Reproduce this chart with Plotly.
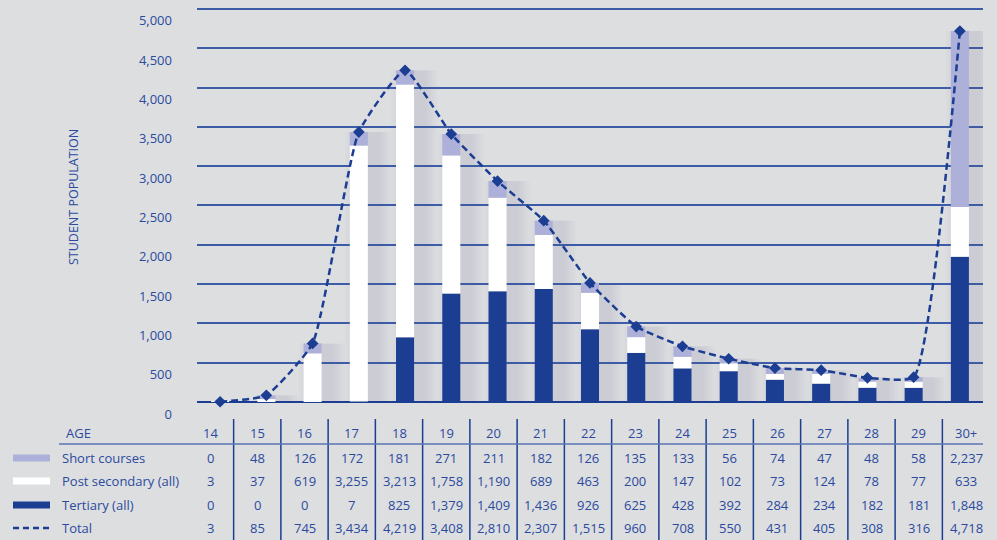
import plotly.graph_objects as go

ages = ["14", "15", "16", "17", "18", "19", "20", "21", "22", "23", "24", "25", "26", "27", "28", "29", "30+"]
short_courses = [0, 48, 126, 172, 181, 271, 211, 182, 126, 135, 133, 56, 74, 47, 48, 58, 2237]
post_secondary = [3, 37, 619, 3255, 3213, 1758, 1190, 689, 463, 200, 147, 102, 73, 124, 78, 77, 633]
tertiary = [0, 0, 0, 7, 825, 1379, 1409, 1436, 926, 625, 428, 392, 284, 234, 182, 181, 1848]
total = [3, 85, 745, 3434, 4219, 3408, 2810, 2307, 1515, 960, 708, 550, 431, 405, 308, 316, 4718]
y_ticks = [0, 500, 1000, 1500, 2000, 2500, 3000, 3500, 4000, 4500, 5000]

BG = "#dddee0"
DARK = "#1b3d92"
LAV = "#adb0d8"
TXT = "#2b4a9e"
GRID = "#3d5ca8"
FONT = "Open Sans"

W, H = 997, 540
L, R, T, B = 197, 14, 5, 138
PW = W - L - R
PH = H - T - B

def px(x):
    return (x - L) / PW

def py(y):
    return (H - B - y) / PH

xs = list(range(len(ages)))
base_post = tertiary
base_short = [t + p for t, p in zip(tertiary, post_secondary)]

fig = go.Figure()

# soft shadow behind bars
for w in [1.0, 0.9, 0.8, 0.7, 0.6, 0.5]:
    fig.add_trace(go.Bar(
        x=[i + 0.2 for i in xs], y=total, width=w,
        marker=dict(color="rgba(120,120,130,0.02)", line=dict(width=0)),
        hoverinfo="skip", showlegend=False))

fig.add_trace(go.Bar(x=xs, y=tertiary, name="Tertiary (all)", width=0.39,
                     marker=dict(color=DARK, line=dict(width=0))))
fig.add_trace(go.Bar(x=xs, y=post_secondary, base=base_post, name="Post secondary (all)", width=0.39,
                     marker=dict(color="#ffffff", line=dict(width=0))))
fig.add_trace(go.Bar(x=xs, y=short_courses, base=base_short, name="Short courses", width=0.39,
                     marker=dict(color=LAV, line=dict(width=0))))
fig.add_trace(go.Scatter(x=xs, y=total, name="Total", mode="lines+markers",
                         line=dict(color=DARK, width=2.5, dash="7px,4px", shape="spline", smoothing=0.45),
                         marker=dict(symbol="diamond", size=9, color=DARK), cliponaxis=False))

shapes = []
annotations = []

# table column separators
col0 = 210
cw = 47.25
for i in range(len(ages) - 1):
    xl = col0 + cw / 2 + i * cw
    shapes.append(dict(type="line", xref="paper", yref="paper",
                       x0=px(xl), x1=px(xl), y0=py(419), y1=py(540),
                       line=dict(color=DARK, width=1.5)))
# header underline
shapes.append(dict(type="line", xref="paper", yref="paper",
                   x0=px(59), x1=px(983), y0=py(444), y1=py(444),
                   line=dict(color="#5a74b4", width=1.5)))

row_y = {"hdr": 433, "short": 458, "post": 481, "ter": 505, "tot": 528}
rows = [("short", short_courses), ("post", post_secondary), ("ter", tertiary), ("tot", total)]
fs = 13
for i, a in enumerate(ages):
    cx = col0 + i * cw
    annotations.append(dict(x=px(cx), y=py(row_y["hdr"]), xref="paper", yref="paper", text=a,
                            showarrow=False, xanchor="center", yanchor="middle",
                            font=dict(family=FONT, size=fs, color=TXT)))
    for key, vals in rows:
        annotations.append(dict(x=px(cx), y=py(row_y[key]), xref="paper", yref="paper",
                                text="{:,}".format(vals[i]), showarrow=False,
                                xanchor="center", yanchor="middle",
                                font=dict(family=FONT, size=fs, color=TXT)))

labels = [("hdr", "AGE", 64), ("short", "Short courses", 60), ("post", "Post secondary (all)", 60),
          ("ter", "Tertiary (all)", 60), ("tot", "Total", 60)]
for key, txt, x0 in labels:
    annotations.append(dict(x=px(x0), y=py(row_y[key]), xref="paper", yref="paper", text=txt,
                            showarrow=False, xanchor="left", yanchor="middle",
                            font=dict(family=FONT, size=fs, color=TXT)))

# legend swatches
for key, col in [("short", LAV), ("post", "#ffffff"), ("ter", DARK)]:
    yc = row_y[key]
    shapes.append(dict(type="rect", xref="paper", yref="paper",
                       x0=px(13), x1=px(50), y0=py(yc - 3.5), y1=py(yc + 3.5),
                       fillcolor=col, line=dict(width=0)))
shapes.append(dict(type="line", xref="paper", yref="paper",
                   x0=px(13), x1=px(50), y0=py(row_y["tot"]), y1=py(row_y["tot"]),
                   line=dict(color=DARK, width=2.5, dash="6px,4px")))
fig.add_trace(go.Scatter(x=[px(31.5)], y=[py(row_y["tot"])], xaxis="x2", yaxis="y2",
                         mode="markers", marker=dict(symbol="diamond", size=9, color=DARK),
                         showlegend=False, hoverinfo="skip", cliponaxis=False))

annotations.append(dict(x=px(73), y=py(197), xref="paper", yref="paper", text="STUDENT POPULATION",
                        showarrow=False, textangle=-90, xanchor="center", yanchor="middle",
                        font=dict(family=FONT, size=12.5, color=TXT)))

fig.update_layout(
    width=W, height=H,
    margin=dict(l=L, r=R, t=T, b=B),
    paper_bgcolor=BG, plot_bgcolor=BG,
    barmode="overlay",
    showlegend=False,
    xaxis=dict(range=[-0.5, len(ages) - 0.5], showticklabels=False, showgrid=False,
               zeroline=False, ticks="", fixedrange=True),
    yaxis=dict(range=[0, 5050], tickvals=y_ticks, tickformat=",", showgrid=True,
               gridcolor=GRID, gridwidth=1.5, zeroline=True, zerolinecolor=DARK, zerolinewidth=2,
               ticks="", ticklabelstandoff=24, ticklabelshift=12,
               tickfont=dict(family=FONT, size=13, color=TXT)),
    xaxis2=dict(domain=[0, 1], range=[0, 1], overlaying="x", visible=False, fixedrange=True),
    yaxis2=dict(range=[0, 1], overlaying="y", visible=False, fixedrange=True),
    shapes=shapes,
    annotations=annotations,
)

fig.write_html("out.html")
